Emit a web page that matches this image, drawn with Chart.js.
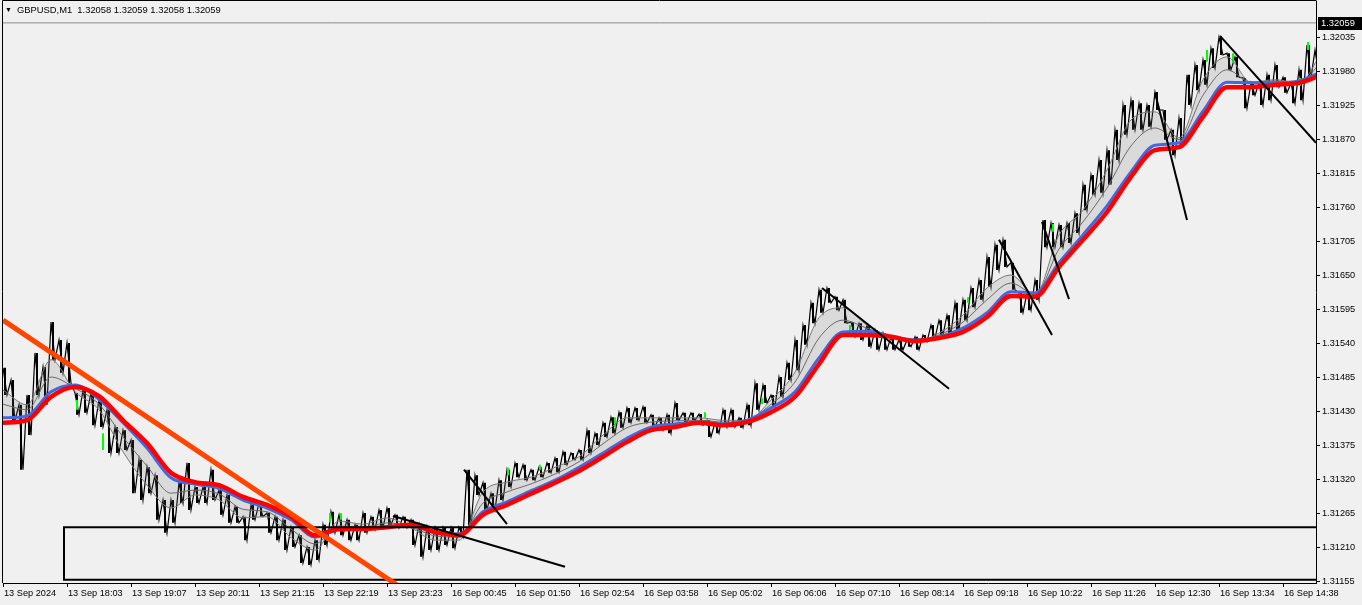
<!DOCTYPE html>
<html>
<head>
<meta charset="utf-8">
<script src="https://cdn.jsdelivr.net/npm/chart.js@4.4.1/dist/chart.umd.min.js"></script>
<style>
  html, body { margin: 0; padding: 0; background: #f0f0f0; overflow: hidden; }
  #wrap { position: relative; width: 1362px; height: 605px; }
  #hdr { position: absolute; left: 5px; top: 4px; font: 9.4px 'Liberation Sans', Arial, sans-serif; line-height: 11px; color: #000; white-space: pre; }
  #hdr .tri { font-size: 7px; vertical-align: 1px; margin-right: 5px; }
</style>
</head>
<body>
<div id="wrap">
  <canvas id="chart" width="1362" height="605"></canvas>
  <div id="hdr"><span class="tri">▼</span>GBPUSD,M1  1.32058 1.32059 1.32058 1.32059</div>
</div>
<script>
// GBPUSD M1 - bars sampled every 8 minutes (high / low of each block)
const sampleStep = 8;
const priceHigh = [
  1.31501, 1.31481, 1.31441, 1.31457, 1.31525, 1.31502, 1.31575, 1.31546, 1.31541, 1.31460,
  1.31465, 1.31460, 1.31449, 1.31433, 1.31405, 1.31400, 1.31384, 1.31352, 1.31340, 1.31327,
  1.31287, 1.31287, 1.31315, 1.31347, 1.31308, 1.31308, 1.31336, 1.31303, 1.31295, 1.31276,
  1.31260, 1.31279, 1.31282, 1.31266, 1.31260, 1.31255, 1.31243, 1.31230, 1.31211, 1.31222,
  1.31247, 1.31268, 1.31263, 1.31255, 1.31247, 1.31266, 1.31260, 1.31271, 1.31274, 1.31263,
  1.31260, 1.31255, 1.31247, 1.31243, 1.31242, 1.31242, 1.31242, 1.31243, 1.31336, 1.31327,
  1.31315, 1.31298, 1.31319, 1.31336, 1.31347, 1.31344, 1.31336, 1.31340, 1.31347, 1.31355,
  1.31365, 1.31363, 1.31368, 1.31400, 1.31395, 1.31412, 1.31421, 1.31429, 1.31436, 1.31436,
  1.31438, 1.31425, 1.31420, 1.31425, 1.31444, 1.31428, 1.31428, 1.31426, 1.31416, 1.31412,
  1.31433, 1.31433, 1.31420, 1.31441, 1.31476, 1.31473, 1.31457, 1.31486, 1.31509, 1.31546,
  1.31570, 1.31606, 1.31627, 1.31630, 1.31616, 1.31611, 1.31575, 1.31573, 1.31570, 1.31562,
  1.31557, 1.31551, 1.31546, 1.31546, 1.31551, 1.31554, 1.31570, 1.31578, 1.31586, 1.31606,
  1.31611, 1.31630, 1.31643, 1.31680, 1.31700, 1.31708, 1.31671, 1.31622, 1.31622, 1.31643,
  1.31740, 1.31735, 1.31732, 1.31735, 1.31751, 1.31797, 1.31813, 1.31837, 1.31853, 1.31886,
  1.31926, 1.31934, 1.31929, 1.31926, 1.31947, 1.31918, 1.31886, 1.31905, 1.31975, 1.31991,
  1.31999, 1.32018, 1.32036, 1.32010, 1.32004, 1.31970, 1.31962, 1.31962, 1.31975, 1.31991,
  1.31971, 1.31962, 1.31983, 1.32023, 1.32015
];
const priceLow = [
  1.31457, 1.31416, 1.31336, 1.31392, 1.31457, 1.31441, 1.31514, 1.31493, 1.31476, 1.31425,
  1.31428, 1.31408, 1.31405, 1.31363, 1.31363, 1.31368, 1.31298, 1.31287, 1.31298, 1.31255,
  1.31234, 1.31250, 1.31282, 1.31271, 1.31282, 1.31282, 1.31287, 1.31263, 1.31250, 1.31250,
  1.31222, 1.31255, 1.31260, 1.31234, 1.31222, 1.31206, 1.31211, 1.31185, 1.31182, 1.31190,
  1.31214, 1.31234, 1.31230, 1.31222, 1.31222, 1.31234, 1.31239, 1.31242, 1.31247, 1.31242,
  1.31242, 1.31214, 1.31195, 1.31206, 1.31206, 1.31214, 1.31209, 1.31227, 1.31242, 1.31295,
  1.31271, 1.31271, 1.31287, 1.31308, 1.31324, 1.31319, 1.31319, 1.31324, 1.31331, 1.31332,
  1.31344, 1.31352, 1.31352, 1.31363, 1.31376, 1.31389, 1.31395, 1.31404, 1.31412, 1.31416,
  1.31412, 1.31405, 1.31400, 1.31395, 1.31416, 1.31413, 1.31416, 1.31408, 1.31389, 1.31395,
  1.31405, 1.31405, 1.31404, 1.31408, 1.31433, 1.31444, 1.31438, 1.31454, 1.31481, 1.31497,
  1.31538, 1.31573, 1.31590, 1.31606, 1.31594, 1.31573, 1.31551, 1.31546, 1.31535, 1.31530,
  1.31530, 1.31530, 1.31530, 1.31535, 1.31530, 1.31543, 1.31549, 1.31554, 1.31557, 1.31562,
  1.31578, 1.31599, 1.31611, 1.31632, 1.31659, 1.31664, 1.31627, 1.31590, 1.31594, 1.31611,
  1.31696, 1.31696, 1.31696, 1.31703, 1.31719, 1.31756, 1.31781, 1.31784, 1.31797, 1.31837,
  1.31878, 1.31886, 1.31886, 1.31891, 1.31918, 1.31870, 1.31845, 1.31858, 1.31926, 1.31950,
  1.31959, 1.31986, 1.32007, 1.31983, 1.31971, 1.31921, 1.31942, 1.31926, 1.31934, 1.31955,
  1.31946, 1.31929, 1.31934, 1.31970, 1.31975
];

// moving averages, read every 24 minutes
const maStep = 24;
const maRed = [
  1.31412, 1.31416, 1.31454, 1.31470, 1.31455, 1.31416, 1.31379, 1.31331, 1.31316, 1.31311,
  1.31292, 1.31279, 1.31260, 1.31230, 1.31240, 1.31240, 1.31243, 1.31247, 1.31235, 1.31230,
  1.31263, 1.31279, 1.31297, 1.31315, 1.31334, 1.31357, 1.31381, 1.31400, 1.31405, 1.31412,
  1.31408, 1.31413, 1.31429, 1.31454, 1.31507, 1.31554, 1.31554, 1.31551, 1.31544, 1.31549,
  1.31559, 1.31583, 1.31617, 1.31616, 1.31664, 1.31708, 1.31753, 1.31810, 1.31853, 1.31858,
  1.31907, 1.31955, 1.31955, 1.31959, 1.31962, 1.31976
];
const maBlue = [
  1.31420, 1.31423, 1.31462, 1.31473, 1.31450, 1.31412, 1.31371, 1.31323, 1.31313, 1.31306,
  1.31287, 1.31274, 1.31255, 1.31227, 1.31239, 1.31240, 1.31243, 1.31245, 1.31235, 1.31232,
  1.31268, 1.31284, 1.31302, 1.31319, 1.31340, 1.31363, 1.31387, 1.31405, 1.31410, 1.31413,
  1.31410, 1.31416, 1.31436, 1.31462, 1.31517, 1.31559, 1.31560, 1.31552, 1.31546, 1.31551,
  1.31565, 1.31590, 1.31624, 1.31622, 1.31671, 1.31716, 1.31763, 1.31818, 1.31861, 1.31865,
  1.31916, 1.31963, 1.31962, 1.31962, 1.31965, 1.31981
];
const maGrayFast = [
  1.31465, 1.31441, 1.31514, 1.31462, 1.31433, 1.31365, 1.31311, 1.31274, 1.31295, 1.31287,
  1.31258, 1.31260, 1.31226, 1.31206, 1.31253, 1.31248, 1.31258, 1.31242, 1.31222, 1.31222,
  1.31300, 1.31316, 1.31324, 1.31340, 1.31357, 1.31392, 1.31420, 1.31420, 1.31420, 1.31420,
  1.31416, 1.31416, 1.31449, 1.31494, 1.31582, 1.31598, 1.31570, 1.31551, 1.31543, 1.31557,
  1.31586, 1.31630, 1.31651, 1.31619, 1.31716, 1.31756, 1.31821, 1.31902, 1.31915, 1.31873,
  1.31967, 1.32004, 1.31963, 1.31967, 1.31962, 1.32015
];
const maGrayMid = [
  1.31442, 1.31433, 1.31486, 1.31468, 1.31442, 1.31389, 1.31342, 1.31298, 1.31303, 1.31297,
  1.31272, 1.31268, 1.31240, 1.31216, 1.31245, 1.31243, 1.31250, 1.31243, 1.31229, 1.31227,
  1.31282, 1.31300, 1.31313, 1.31329, 1.31349, 1.31378, 1.31404, 1.31413, 1.31415, 1.31416,
  1.31413, 1.31416, 1.31442, 1.31478, 1.31549, 1.31578, 1.31565, 1.31552, 1.31544, 1.31554,
  1.31575, 1.31611, 1.31638, 1.31620, 1.31693, 1.31737, 1.31792, 1.31860, 1.31889, 1.31870,
  1.31942, 1.31983, 1.31963, 1.31965, 1.31963, 1.31999
];

// green (bullish) bars
const greenX = [74, 100, 327, 338, 505, 537, 612, 702, 759, 847, 965, 1050, 1204, 1230, 1297, 1305];
const greenHigh = [1.31449, 1.31395, 1.31266, 1.31266, 1.31339, 1.31344, 1.31421, 1.31429, 1.31452, 1.31570, 1.31615, 1.31734, 1.32015, 1.32010, 1.31970, 1.32028];
const greenLow = [1.31433, 1.31368, 1.31251, 1.31255, 1.31327, 1.31336, 1.31405, 1.31420, 1.31442, 1.31559, 1.31606, 1.31721, 1.31996, 1.31994, 1.31957, 1.32015];

// trend lines (first one is the orange channel line)
const trendStartX = [0, 390, 461, 819, 996, 1039, 1152, 1217];
const trendStartY = [1.31578, 1.31261, 1.31336, 1.31630, 1.31708, 1.31737, 1.31946, 1.32038];
const trendEndX = [400, 562, 504, 946, 1049, 1066, 1184, 1313];
const trendEndY = [1.31143, 1.31179, 1.31248, 1.31467, 1.31554, 1.31612, 1.31740, 1.31865];

// rectangle object
const rectLeft = 61;
const rectRight = 1330;
const rectTop = 1.31243;
const rectBottom = 1.31158;

const bidPrice = 1.32059;
const lastBar = 1313;
const yMin = 1.311527;
const yMax = 1.320944;

const yTicks = [1.31155, 1.31210, 1.31265, 1.31320, 1.31375, 1.31430, 1.31485, 1.31540, 1.31595,
  1.31650, 1.31705, 1.31760, 1.31815, 1.31870, 1.31925, 1.31980, 1.32035];
const xTickPos = [0, 64, 128, 192, 256, 320, 384, 448, 512, 576, 640, 704, 768, 832, 896, 960, 1024, 1088, 1152, 1216, 1280];
const xLabels = ['13 Sep 2024', '13 Sep 18:03', '13 Sep 19:07', '13 Sep 20:11', '13 Sep 21:15', '13 Sep 22:19',
  '13 Sep 23:23', '16 Sep 00:45', '16 Sep 01:50', '16 Sep 02:54', '16 Sep 03:58', '16 Sep 05:02', '16 Sep 06:06',
  '16 Sep 07:10', '16 Sep 08:14', '16 Sep 09:18', '16 Sep 10:22', '16 Sep 11:26', '16 Sep 12:30', '16 Sep 13:34',
  '16 Sep 14:38'];

// build datasets
const pricePoints = [];
const priceRanges = [];
priceHigh.forEach((h, i) => {
  const x = i * sampleStep;
  pricePoints.push({ x: x, y: h });
  pricePoints.push({ x: x + sampleStep / 2, y: priceLow[i] });
  priceRanges.push({ x: x + 2, y: priceLow[i] }, { x: x + 2, y: h }, { x: x + 2, y: null });
});

const maPoints = arr => arr.map((v, i) => ({ x: i * maStep, y: v }));

const greenPoints = [];
greenX.forEach((x, i) => {
  greenPoints.push({ x: x, y: greenLow[i] }, { x: x, y: greenHigh[i] }, { x: x, y: null });
});

const datasets = [];

trendStartX.forEach((x, i) => {
  datasets.push({
    label: 'trend ' + i,
    data: [{ x: x, y: trendStartY[i] }, { x: trendEndX[i], y: trendEndY[i] }],
    borderColor: i === 0 ? '#ff4500' : '#000000',
    borderWidth: i === 0 ? 5 : 2,
    order: 0
  });
});

datasets.push({
  label: 'rectangle',
  data: [
    { x: rectRight, y: rectTop }, { x: rectLeft, y: rectTop },
    { x: rectLeft, y: rectBottom }, { x: rectRight, y: rectBottom }
  ],
  borderColor: '#000000',
  borderWidth: 2,
  order: 0
});

datasets.push({
  label: 'MA red',
  data: maPoints(maRed),
  borderColor: '#ff0000',
  borderWidth: 4.5,
  cubicInterpolationMode: 'monotone',
  order: 1
});
datasets.push({
  label: 'MA blue',
  data: maPoints(maBlue),
  borderColor: '#4169e1',
  borderWidth: 3,
  cubicInterpolationMode: 'monotone',
  order: 2
});
datasets.push({
  label: 'MA gray mid',
  data: maPoints(maGrayMid),
  borderColor: '#6a6a6a',
  borderWidth: 1,
  cubicInterpolationMode: 'monotone',
  order: 3
});
datasets.push({
  label: 'MA gray fast',
  data: maPoints(maGrayFast),
  borderColor: '#7a7a7a',
  borderWidth: 1,
  cubicInterpolationMode: 'monotone',
  backgroundColor: 'rgba(110, 110, 110, 0.17)',
  fill: 'blueRef',
  order: 4
});
datasets.push({
  label: 'green bars',
  data: greenPoints,
  borderColor: '#00ff00',
  borderWidth: 2,
  spanGaps: false,
  order: 5
});
datasets.push({
  label: 'price',
  data: pricePoints,
  borderColor: '#000000',
  borderWidth: 1.2,
  order: 6
});
datasets.push({
  label: 'price range',
  data: priceRanges,
  borderColor: '#000000',
  borderWidth: 2,
  spanGaps: false,
  order: 6
});
datasets.push({
  label: 'bid',
  data: [{ x: 0, y: bidPrice }, { x: lastBar, y: bidPrice }],
  borderColor: '#8a8a8a',
  borderWidth: 1,
  order: 7
});

const blueIndex = datasets.findIndex(d => d.label === 'MA blue');
datasets.forEach(d => { if (d.fill === 'blueRef') d.fill = blueIndex; });

// frame + current price label
const framePlugin = {
  id: 'frame',
  afterDraw(chart) {
    const { ctx, chartArea, scales } = chart;
    ctx.save();
    ctx.strokeStyle = '#000';
    ctx.lineWidth = 1;
    ctx.beginPath();
    ctx.moveTo(2.5, chartArea.bottom);
    ctx.lineTo(2.5, 0.5);
    ctx.lineTo(chartArea.right + 0.5, 0.5);
    ctx.stroke();
    const y = Math.round(scales.y.getPixelForValue(bidPrice));
    ctx.fillStyle = '#000';
    ctx.fillRect(chartArea.right + 2, y - 6, 44, 13);
    ctx.fillStyle = '#fff';
    ctx.font = "9.4px 'Liberation Sans', Arial, sans-serif";
    ctx.textBaseline = 'middle';
    ctx.fillText(bidPrice.toFixed(5), chartArea.right + 5, y + 0.5);
    ctx.restore();
  }
};

Chart.defaults.font.family = "'Liberation Sans', Arial, sans-serif";
Chart.defaults.font.size = 9.2;
Chart.defaults.color = '#000';

new Chart(document.getElementById('chart'), {
  type: 'line',
  data: { datasets: datasets },
  options: {
    responsive: false,
    animation: false,
    devicePixelRatio: 1,
    layout: { padding: { left: 3, top: 1, right: 0, bottom: 0 } },
    plugins: { legend: { display: false }, tooltip: { enabled: false } },
    elements: { point: { radius: 0 }, line: { tension: 0, fill: false } },
    scales: {
      x: {
        type: 'linear',
        min: 0,
        max: lastBar,
        afterBuildTicks: s => { s.ticks = xTickPos.map(v => ({ value: v })); },
        afterFit: s => { s.height = 22; s.paddingLeft = 0; s.paddingRight = 0; },
        grid: { drawOnChartArea: false, drawTicks: true, tickLength: 4, color: '#000' },
        border: { display: true, color: '#000', width: 1 },
        ticks: {
          autoSkip: false,
          maxRotation: 0,
          align: 'start',
          padding: 1,
          labelOffset: 1,
          color: '#000',
          callback: (v, i) => xLabels[i]
        }
      },
      y: {
        type: 'linear',
        position: 'right',
        min: yMin,
        max: yMax,
        afterBuildTicks: s => { s.ticks = yTicks.map(v => ({ value: v })); },
        afterFit: s => { s.width = 46; s.paddingTop = 0; s.paddingBottom = 0; },
        grid: { drawOnChartArea: false, drawTicks: true, tickLength: 4, color: '#000' },
        border: { display: true, color: '#000', width: 1 },
        ticks: {
          padding: 2,
          color: '#000',
          callback: v => v.toFixed(5)
        }
      }
    }
  },
  plugins: [framePlugin]
});
</script>
</body>
</html>
